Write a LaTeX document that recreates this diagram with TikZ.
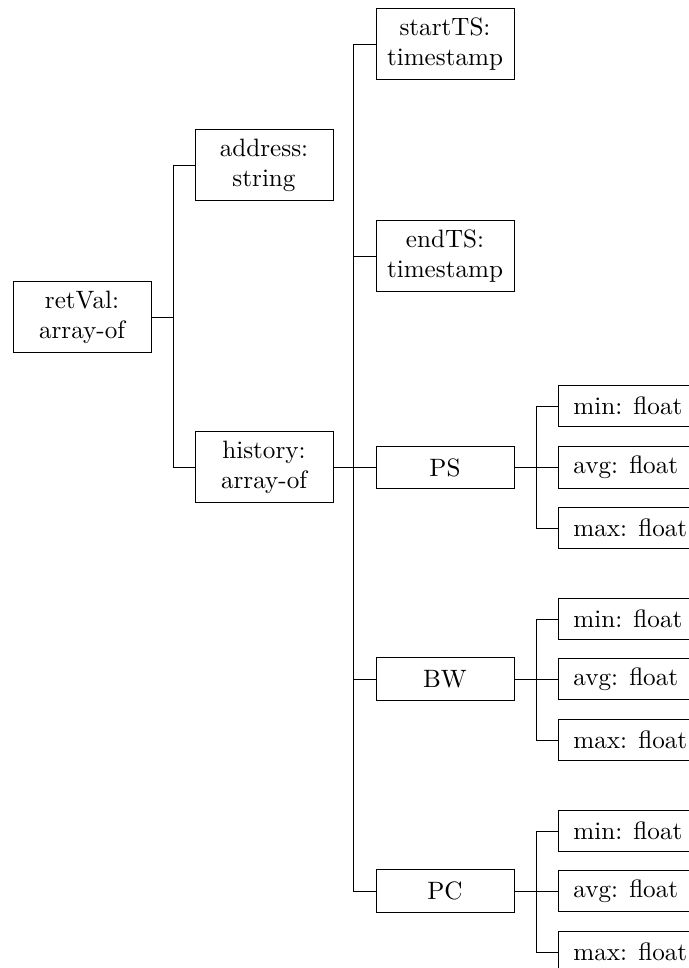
\documentclass[tikz,border=0pt]{standalone}
\usepackage{fontspec}
\begin{document}
\begin{tikzpicture}[x=0.408pt, y=-0.408pt,
  font=\fontsize{10.25pt}{12.3pt}\selectfont,
  box/.style={draw, rectangle, inner sep=0pt, align=center, minimum width=56.3pt},
  twoline/.style={box, minimum height=28.6pt},
  oneline/.style={box, minimum height=17.3pt},
  leaf/.style={draw, rectangle, inner xsep=6.1pt, inner ysep=0pt, anchor=west, minimum height=17pt},
  link/.style={line width=0.4pt}]
\useasboundingbox (0,0) rectangle (688,968);

% root and first level
\node[twoline] (ret) at (82,317) {retVal:\\array-of};
\node[twoline] (addr) at (264,165) {address:\\string};
\node[twoline] (hist) at (264,467) {history:\\array-of};

% history entries
\node[twoline] (start) at (445,44) {startTS:\\timestamp};
\node[twoline] (end) at (445,256) {endTS:\\timestamp};
\node[oneline] (ps) at (445,467.5) {PS};
\node[oneline] (bw) at (445,679) {BW};
\node[oneline] (pc) at (445,891) {PC};

% leaves of PS, BW, PC
\node[leaf] (psmin) at (558,406) {min: float};
\node[leaf] (psavg) at (558,467.5) {avg: float};
\node[leaf] (psmax) at (558,528) {max: float};
\node[leaf] (bwmin) at (558,619) {min: float};
\node[leaf] (bwavg) at (558,679) {avg: float};
\node[leaf] (bwmax) at (558,740) {max: float};
\node[leaf] (pcmin) at (558,831) {min: float};
\node[leaf] (pcavg) at (558,891) {avg: float};
\node[leaf] (pcmax) at (558,952) {max: float};

% tree edges
\draw[link] (ret.east) -- +(22,0) coordinate (j0);
\draw[link] (j0) |- (addr.west);
\draw[link] (j0) |- (hist.west);

\draw[link] (hist.east) -- +(20,0) coordinate (j1);
\foreach \n in {start,end,ps,bw,pc}
  \draw[link] (j1) |- (\n.west);

\foreach \p in {ps,bw,pc}{
  \draw[link] (\p.east) -- +(22,0) coordinate (j\p);
  \foreach \q in {min,avg,max}
    \draw[link] (j\p) |- (\p\q.west);
}
\end{tikzpicture}
\end{document}
